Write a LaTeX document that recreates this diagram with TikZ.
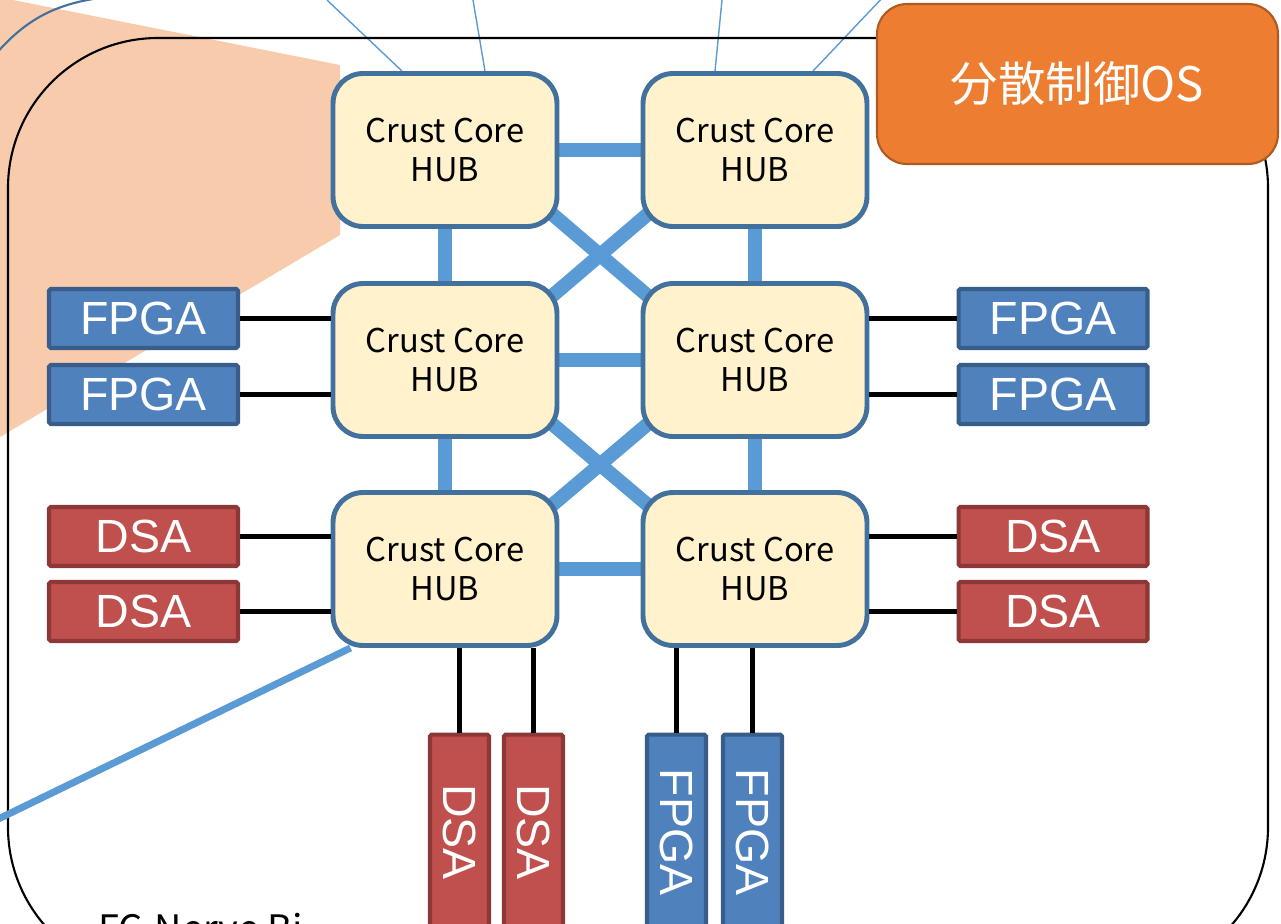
\documentclass[tikz,border=0pt]{standalone}
\usepackage{fontspec}
\usepackage{tikz}
\usetikzlibrary{backgrounds}
\newfontfamily\jpfont{Noto Sans CJK JP}
\newfontfamily\arialfont{Liberation Sans}
\definecolor{hubfill}{HTML}{FFF2CC}
\definecolor{hubline}{HTML}{41719C}
\definecolor{linkblue}{HTML}{5B9BD5}
\definecolor{fpgafill}{HTML}{4F81BD}
\definecolor{fpgaline}{HTML}{385D8A}
\definecolor{dsafill}{HTML}{C0504D}
\definecolor{dsaline}{HTML}{8C3836}
\definecolor{osfill}{HTML}{ED7D31}
\definecolor{osline}{HTML}{AE5A21}
\definecolor{peach}{HTML}{F8CBAD}

\begin{document}
\begin{tikzpicture}[x=0.02cm,y=-0.02cm]
\tikzset{hub/.style = {shape=rectangle,rounded corners=0.6cm,draw=hubline,line width=2.8pt,fill=hubfill,minimum width=4.48cm,minimum height=3.06cm,align=center,font=\jpfont\fontsize{18.6}{22}\selectfont}}
\tikzset{fpga/.style = {shape=rectangle,rounded corners=1pt,draw=fpgaline,fill=fpgafill,line width=2.3pt,minimum width=3.78cm,minimum height=1.18cm,inner sep=0pt,text=white,font=\arialfont\fontsize{26.5}{26.5}\selectfont}}
\tikzset{dsa/.style = {fpga,draw=dsaline,fill=dsafill}}
\tikzset{upright/.style = {minimum width=3.9cm,rotate=-90}}
\tikzset{wire/.style = {line width=2.8pt,black}}
\tikzset{link/.style = {line width=8pt,linkblue}}
\clip (0,0) rectangle (1281,923);

% hubs
\node[hub] (h11) at (445,150) {Crust Core\\HUB};
\node[hub] (h12) at (755,150) {Crust Core\\HUB};
\node[hub] (h21) at (445,360) {Crust Core\\HUB};
\node[hub] (h22) at (755,360) {Crust Core\\HUB};
\node[hub] (h31) at (445,569) {Crust Core\\HUB};
\node[hub] (h32) at (755,569) {Crust Core\\HUB};

% accelerators
\node[fpga] (f1) at (143.5,318.5) {FPGA};
\node[fpga] (f2) at (143.5,394.5) {FPGA};
\node[fpga] (f3) at (1053,318.5) {FPGA};
\node[fpga] (f4) at (1053,394.5) {FPGA};
\node[dsa] (d1) at (143.5,536.5) {DSA};
\node[dsa] (d2) at (143.5,611.5) {DSA};
\node[dsa] (d3) at (1053,536.5) {DSA};
\node[dsa] (d4) at (1053,611.5) {DSA};
\node[dsa,upright] (d5) at (459.5,832) {DSA};
\node[dsa,upright] (d6) at (533.5,832) {DSA};
\node[fpga,upright] (f5) at (676.5,832) {FPGA};
\node[fpga,upright] (f6) at (752.5,832) {FPGA};

\node[shape=rectangle,rounded corners=0.6cm,draw=osline,fill=osfill,line width=1.2pt,minimum width=8.02cm,minimum height=3.2cm,text=white,font=\jpfont\fontsize{27}{27}\selectfont] (os) at (1077.5,84) {分散制御OS};
\node[anchor=north west,inner sep=0pt,font=\jpfont\fontsize{21.5}{21.5}\selectfont] (title) at (98,913) {FC-Nerve Bi};

\coordinate (t1) at (327,0);
\coordinate (t2) at (473,0);
\coordinate (t3) at (722,0);
\coordinate (t4) at (885,-5);
\coordinate (off) at (-10,823);

%edges
\draw[wire] (f1.east) -- (f1.east -| h21.west);
\draw[wire] (f2.east) -- (f2.east -| h21.west);
\draw[wire] (f3.west) -- (f3.west -| h22.east);
\draw[wire] (f4.west) -- (f4.west -| h22.east);
\draw[wire] (d1.east) -- (d1.east -| h31.west);
\draw[wire] (d2.east) -- (d2.east -| h31.west);
\draw[wire] (d3.west) -- (d3.west -| h32.east);
\draw[wire] (d4.west) -- (d4.west -| h32.east);
\draw[wire] (d5.west) -- (d5.west |- h31.south);
\draw[wire] (d6.west) -- (d6.west |- h31.south);
\draw[wire] (f5.west) -- (f5.west |- h32.south);
\draw[wire] (f6.west) -- (f6.west |- h32.south);

\begin{pgfonlayer}{background}
\fill[peach] (0,0) -- (13,0) -- (340,65) -- (340,235) -- (0,437) -- cycle;
\draw[hubline,line width=1.2pt] (-5,55) .. controls (25,20) and (55,4) .. (100,-2);
\draw[linkblue,line width=0.8pt] (t1) -- ([xshift=-0.86cm]h11.north);
\draw[linkblue,line width=0.8pt] (t2) -- ([xshift=0.8cm]h11.north);
\draw[linkblue,line width=0.8pt] (t3) -- ([xshift=-0.8cm]h12.north);
\draw[linkblue,line width=0.8pt] (t4) -- ([xshift=1.16cm]h12.north);
\draw[line width=1.2pt,rounded corners=3cm] (8,38) rectangle (1268,977);
\draw[linkblue,line width=4pt] ([xshift=0.4cm]h31.south west) -- (off);
\draw[link] (h11) -- (h12);
\draw[link] (h21) -- (h22);
\draw[link] (h31) -- (h32);
\draw[link] (h11) -- (h21);
\draw[link] (h21) -- (h31);
\draw[link] (h12) -- (h22);
\draw[link] (h22) -- (h32);
\draw[link] ([xshift=-0.5cm,yshift=0.6cm]h11.south east) -- ([xshift=0.5cm,yshift=-0.6cm]h22.north west);
\draw[link] ([xshift=0.5cm,yshift=0.6cm]h12.south west) -- ([xshift=-0.5cm,yshift=-0.6cm]h21.north east);
\draw[link] ([xshift=-0.5cm,yshift=0.6cm]h21.south east) -- ([xshift=0.5cm,yshift=-0.6cm]h32.north west);
\draw[link] ([xshift=0.5cm,yshift=0.6cm]h22.south west) -- ([xshift=-0.5cm,yshift=-0.6cm]h31.north east);
\end{pgfonlayer}

\end{tikzpicture}
\end{document}
